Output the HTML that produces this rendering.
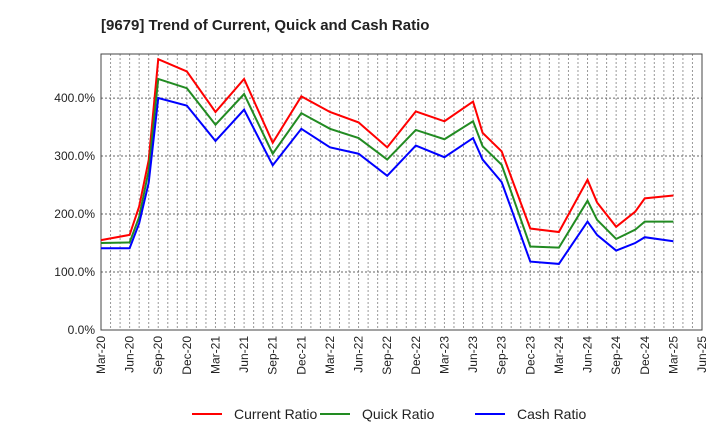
<!DOCTYPE html>
<html><head><meta charset="utf-8"><style>
body{margin:0;background:#fff;font-family:"Liberation Sans",sans-serif}
</style></head><body>
<svg id="chart" width="720" height="440" xmlns="http://www.w3.org/2000/svg" font-family="Liberation Sans, sans-serif">
<text x="101" y="30" font-size="15" font-weight="bold" fill="#222">[9679]  Trend of Current, Quick and Cash Ratio</text>
<g id="grid"></g>
<g id="axes"></g>
<g id="series"></g>
<g id="legend"></g>
</svg>
<script>
const monthIdx = [0,3,4,5,6,9,12,15,18,21,24,27,30,33,36,39,40,42,45,48,51,52,54,56,57,60];
const currentRatio = [155,164,213,293,467,446,376,433,323,403,376,358,315,377,360,394,340,308,175,169,259,220,178,204,227,232];
const quickRatio   = [150,151,195,275,433,417,354,407,304,374,347,331,294,345,329,360,317,285,144,142,223,190,157,173,187,187];
const cashRatio    = [141,141,184,254,400,387,326,380,284,347,315,304,266,318,298,331,294,255,118,114,187,164,137,150,160,153];
const xTickLabels = ["Mar-20","Jun-20","Sep-20","Dec-20","Mar-21","Jun-21","Sep-21","Dec-21","Mar-22","Jun-22","Sep-22","Dec-22","Mar-23","Jun-23","Sep-23","Dec-23","Mar-24","Jun-24","Sep-24","Dec-24","Mar-25","Jun-25"];
const yTicks = [0,100,200,300,400];
const seriesNames = ["Current Ratio","Quick Ratio","Cash Ratio"];
const seriesColors = ["#ff0000","#228b22","#0000ff"];

const L=101,R=702,T=54,B=330,MMAX=63,YMAX=476;
const NS="http://www.w3.org/2000/svg";
const xs=m=>L+(R-L)*m/MMAX;
const ys=v=>B-(B-T)*v/YMAX;
function mk(tag,attrs,parent){const e=document.createElementNS(NS,tag);for(const k in attrs)e.setAttribute(k,attrs[k]);parent.appendChild(e);return e;}
const grid=document.getElementById('grid'),axes=document.getElementById('axes'),ser=document.getElementById('series'),leg=document.getElementById('legend');
for(let m=1;m<MMAX;m++){const l=mk('line',{x1:xs(m),x2:xs(m),y1:T,y2:B,stroke:'#999','stroke-width':1,'stroke-dasharray':'2,2'},grid);

}
yTicks.forEach(v=>{if(v>0){const l=mk('line',{x1:L,x2:R,y1:ys(v),y2:ys(v),stroke:'#666','stroke-width':1,'stroke-dasharray':'2,2'},grid);

}
const t=mk('text',{x:L-6,y:ys(v)+4,'text-anchor':'end','font-size':12,fill:'#222'},axes);t.textContent=v.toFixed(1)+'%';

});
const box=mk('rect',{x:L,y:T,width:R-L,height:B-T,fill:'none',stroke:'#444','stroke-width':1},axes);


xTickLabels.forEach((s,i)=>{const x=xs(i*3);const t=mk('text',{x:0,y:0,'text-anchor':'end','font-size':12,fill:'#222',transform:`translate(${x+4},${B+6}) rotate(-90)`},axes);t.textContent=s;

});
[currentRatio,quickRatio,cashRatio].forEach((d,si)=>{const p=mk('polyline',{points:d.map((v,i)=>xs(monthIdx[i])+','+ys(v)).join(' '),fill:'none',stroke:seriesColors[si],'stroke-width':2},ser);

});
const lx=[192,320,475];
seriesNames.forEach((n,i)=>{const g=mk('g',{},leg);


mk('line',{x1:lx[i],x2:lx[i]+30,y1:414,y2:414,stroke:seriesColors[i],'stroke-width':2},g);
const t=mk('text',{x:lx[i]+42,y:419,'font-size':14,fill:'#222'},g);t.textContent=n;});
</script>
</body></html>
